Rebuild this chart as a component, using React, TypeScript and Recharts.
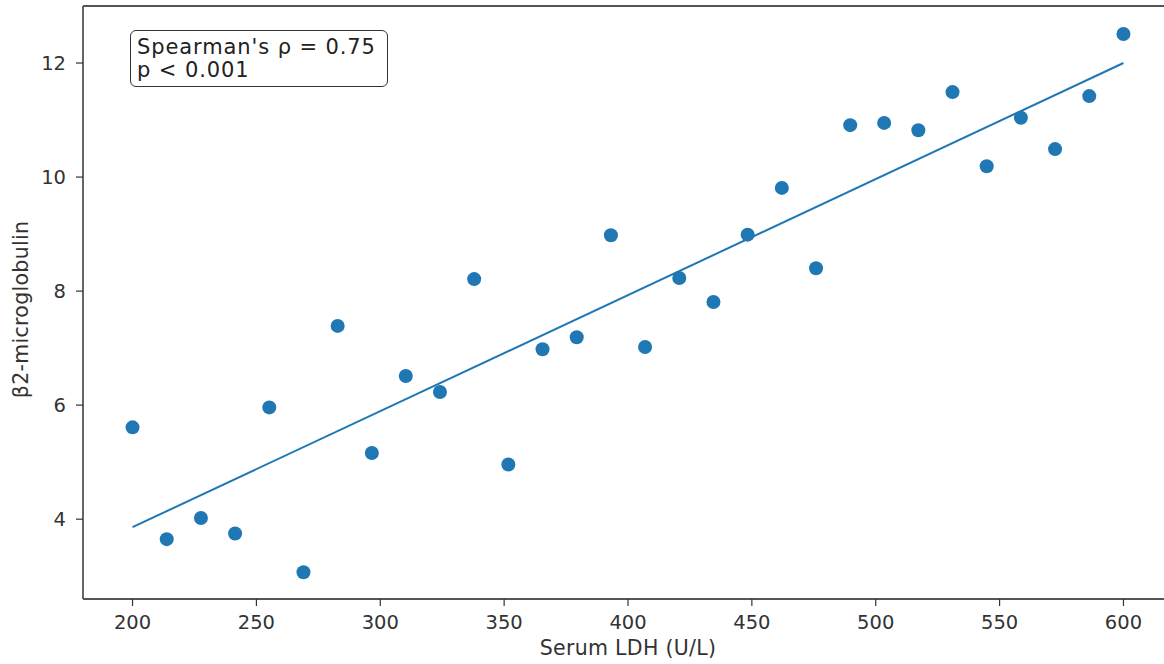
import { ReferenceLine, Scatter, ScatterChart, XAxis, YAxis, Label } from 'recharts'

const ldh = [
  200, 213.8, 227.6, 241.4, 255.2, 269.0, 282.8, 296.6, 310.3, 324.1, 337.9, 351.7, 365.5, 379.3, 393.1,
  406.9, 420.7, 434.5, 448.3, 462.1, 475.9, 489.7, 503.4, 517.2, 531.0, 544.8, 558.6, 572.4, 586.2, 600,
]
const b2m = [
  5.61, 3.65, 4.02, 3.75, 5.96, 3.07, 7.39, 5.16, 6.51, 6.23, 8.21, 4.96, 6.98, 7.19, 8.98,
  7.02, 8.23, 7.81, 8.99, 9.81, 8.4, 10.91, 10.95, 10.82, 11.49, 10.19, 11.04, 10.49, 11.42, 12.51,
]
const fitLine = [
  { x: 200, y: 3.86 },
  { x: 600, y: 12.0 },
]
const xTicks = [200, 250, 300, 350, 400, 450, 500, 550, 600]
const yTicks = [4, 6, 8, 10, 12]
const xDomain: [number, number] = [180, 620]
const yDomain: [number, number] = [2.6, 13.0]

const points = ldh.map((x, i) => ({ x, y: b2m[i] }))

const font = 'DejaVu Sans, sans-serif'
const blue = '#1f77b4'
const spine = '#555'
const tickStyle = { fontSize: 19.5, fill: '#333', fontFamily: font }
const labelStyle = { fontSize: 20.5, fill: '#333', fontFamily: font, letterSpacing: 0.3 }

function XTitle(props: any) {
  const vb = props.viewBox
  const cx = vb.x + vb.width / 2
  return (
    <text x={cx} y={655} textAnchor="middle" style={labelStyle}>
      Serum LDH (U/L)
    </text>
  )
}

function YTitle(props: any) {
  const vb = props.viewBox
  const cx = 21
  const cy = vb.y + vb.height / 2 + 7
  return (
    <text x={cx} y={cy} transform={`rotate(-90 ${cx} ${cy})`} textAnchor="middle" dominantBaseline="central" style={labelStyle}>
      β2-microglobulin
    </text>
  )
}

export default function App() {
  return (
    <div style={{ position: 'absolute', left: 0, top: 0, width: 1164, height: 664, overflow: 'hidden', background: '#fff' }}>
      <ScatterChart width={1180} height={664} margin={{ top: 6, right: 7, bottom: 0, left: 0 }}>
        <XAxis
          type="number"
          dataKey="x"
          domain={xDomain}
          ticks={xTicks}
          allowDataOverflow
          height={65}
          stroke={spine}
          strokeWidth={1.8}
          tickSize={7}
          tickMargin={9}
          tick={tickStyle}
          tickLine={{ stroke: '#333', strokeWidth: 1.2 }}
        >
          <Label content={XTitle} />
        </XAxis>
        <YAxis
          type="number"
          dataKey="y"
          domain={yDomain}
          ticks={yTicks}
          allowDataOverflow
          width={83}
          stroke={spine}
          strokeWidth={1.8}
          tickSize={7}
          tickMargin={10}
          tick={tickStyle}
          tickLine={{ stroke: '#333', strokeWidth: 1.2 }}
        >
          <Label content={YTitle} />
        </YAxis>
        <ReferenceLine y={yDomain[1]} stroke={spine} strokeWidth={1.8} />
        <ReferenceLine x={xDomain[1]} stroke={spine} strokeWidth={1.8} />
        <ReferenceLine segment={fitLine} stroke={blue} strokeWidth={2} />
        <Scatter data={points} fill={blue} isAnimationActive={false} shape={(p: any) => <circle cx={p.cx} cy={p.cy} r={7} fill={blue} />} />
      </ScatterChart>
      <div
        style={{
          position: 'absolute',
          left: 130,
          top: 30,
          width: 258,
          height: 57,
          border: '1.5px solid #333',
          borderRadius: 6,
          padding: '5px 0 0 6px',
          boxSizing: 'border-box',
          fontFamily: font,
          fontSize: 21,
          letterSpacing: 0.9,
          lineHeight: '23px',
          color: '#222',
          background: '#fff',
          whiteSpace: 'nowrap',
        }}
      >
        Spearman's ρ = 0.75
        <br />
        p &lt; 0.001
      </div>
    </div>
  )
}
